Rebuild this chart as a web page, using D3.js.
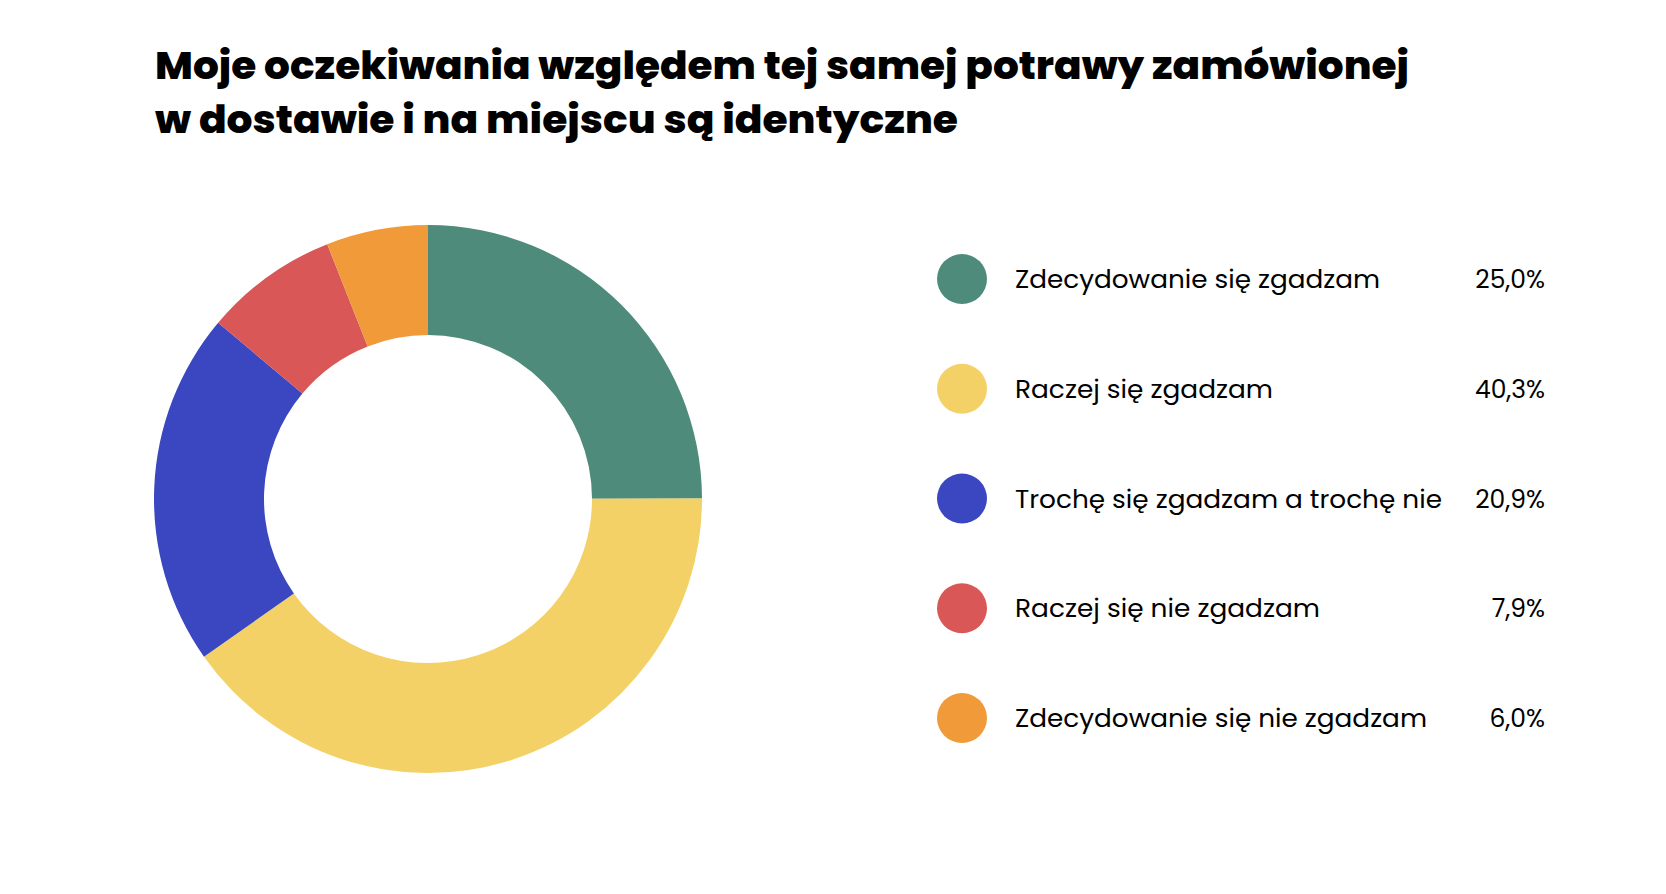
<!DOCTYPE html>
<html>
<head>
<meta charset="utf-8">
<script src="https://cdn.jsdelivr.net/npm/d3@7"></script>
<style>
  html, body { margin: 0; padding: 0; background: #ffffff; }
  svg { display: block; }
</style>
</head>
<body>
<svg id="chart" width="1666" height="894"></svg>
<script>
const titleLines = ["Moje oczekiwania względem tej samej potrawy zamówionej", "w dostawie i na miejscu są identyczne"];
const categories = ["Zdecydowanie się zgadzam", "Raczej się zgadzam", "Trochę się zgadzam a trochę nie", "Raczej się nie zgadzam", "Zdecydowanie się nie zgadzam"];
const values = [25.0, 40.3, 20.9, 7.9, 6.0];
const valueLabels = ["25,0%", "40,3%", "20,9%", "7,9%", "6,0%"];
const colors = ["#4e8b7a", "#f4d166", "#3a47c0", "#d95757", "#f09a3a"];

const svg = d3.select("#chart");

// Title
const titleFont = "Poppins, Inter, 'Open Sans', sans-serif";
const titleTargets = [1254, 803];
titleLines.forEach((t, i) => {
  svg.append("text")
    .attr("x", 155)
    .attr("y", 79 + i * 54)
    .attr("font-family", titleFont)
    .attr("font-weight", 800)
    .attr("font-size", 39)
    .attr("fill", "#000")
    .attr("textLength", titleTargets[i])
    .attr("lengthAdjust", "spacingAndGlyphs")
    .text(t);
});

// Donut
const cx = 428, cy = 499, rOuter = 274, rInner = 164;
const pie = d3.pie().sort(null).value(d => d.v);
const arc = d3.arc().innerRadius(rInner).outerRadius(rOuter);
const data = categories.map((c, i) => ({ c, v: values[i], col: colors[i] }));
svg.append("g")
  .attr("transform", `translate(${cx},${cy})`)
  .selectAll("path")
  .data(pie(data))
  .join("path")
  .attr("d", arc)
  .attr("fill", d => d.data.col);

// Legend
const legY = d3.scalePoint().domain(categories).range([279, 718]);
const leg = svg.append("g");
const fs = 25;
const rows = leg.selectAll("g").data(data).join("g")
  .attr("transform", d => `translate(0,${legY(d.c)})`);
rows.append("circle").attr("cx", 962).attr("cy", 0).attr("r", 25).attr("fill", d => d.col);
const labelTargets = [365, 258, 427, 305, 412];
rows.append("text")
  .attr("x", 1015).attr("y", fs * 0.36)
  .attr("font-family", "Poppins, Inter, 'Open Sans', sans-serif")
  .attr("font-size", fs).attr("fill", "#000")
  .attr("textLength", (d, i) => labelTargets[i])
  .attr("lengthAdjust", "spacingAndGlyphs")
  .text(d => d.c);
rows.append("text")
  .attr("x", 1545).attr("y", fs * 0.36)
  .attr("text-anchor", "end")
  .attr("font-family", "Poppins, Inter, 'Open Sans', sans-serif")
  .attr("font-size", fs).attr("fill", "#000")
  .text((d, i) => valueLabels[i]);
</script>
</body>
</html>
